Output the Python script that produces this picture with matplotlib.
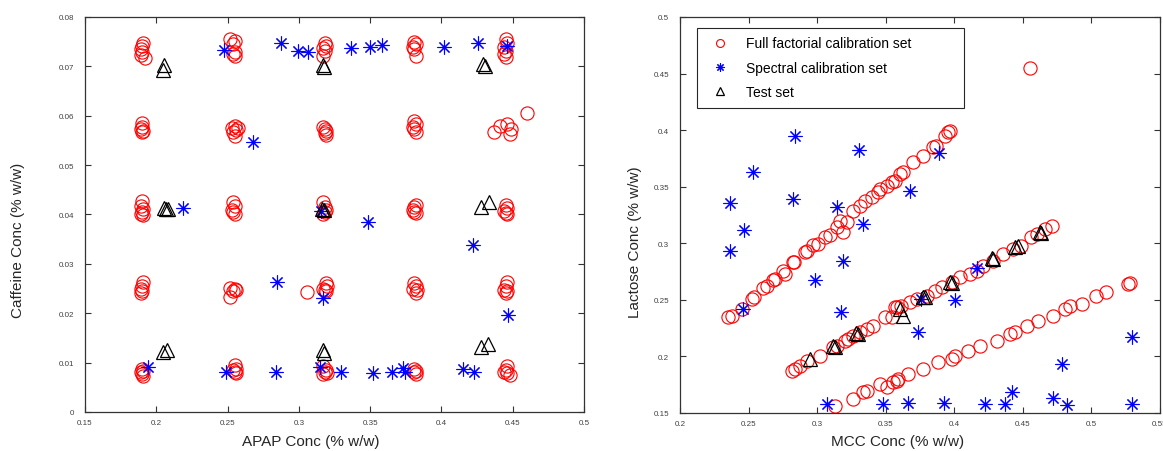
import matplotlib
matplotlib.use('Agg')
import matplotlib.pyplot as plt
from matplotlib.ticker import FuncFormatter

plt.rcParams['font.family'] = ['Liberation Sans', 'DejaVu Sans']

# ---- left panel: APAP vs caffeine ----
apap_ff = [0.191, 0.190, 0.189, 0.190, 0.189, 0.192,
           0.190, 0.190, 0.189, 0.191, 0.190,
           0.190, 0.189, 0.191, 0.190, 0.189, 0.191,
           0.191, 0.190, 0.189, 0.190, 0.189,
           0.190, 0.191, 0.189, 0.190, 0.191,
           0.252, 0.255, 0.254, 0.255, 0.254, 0.255,
           0.253, 0.255, 0.256, 0.254, 0.255, 0.257,
           0.254, 0.255, 0.253, 0.254, 0.255,
           0.252, 0.255, 0.256, 0.254, 0.252,
           0.255, 0.256, 0.254, 0.255, 0.256,
           0.318, 0.319, 0.317, 0.318, 0.317,
           0.317, 0.318, 0.319, 0.318, 0.319,
           0.317, 0.318, 0.319, 0.318, 0.317,
           0.319, 0.320, 0.317, 0.318, 0.319, 0.3056,
           0.317, 0.319, 0.318, 0.320, 0.317,
           0.381, 0.382, 0.380, 0.381, 0.382,
           0.381, 0.382, 0.380, 0.381, 0.382,
           0.382, 0.381, 0.380, 0.381, 0.382,
           0.381, 0.382, 0.380, 0.383, 0.382,
           0.381, 0.382, 0.381, 0.382,
           0.445, 0.446, 0.444, 0.445, 0.444, 0.445,
           0.437, 0.441, 0.446, 0.448, 0.449, 0.460,
           0.445, 0.446, 0.444, 0.445, 0.446,
           0.446, 0.445, 0.444, 0.446, 0.445,
           0.446, 0.445, 0.444, 0.446, 0.448]
caf_ff = [0.0747, 0.0741, 0.0735, 0.0729, 0.0724, 0.0716,
          0.0585, 0.0578, 0.0574, 0.0570, 0.0568,
          0.0428, 0.0418, 0.0412, 0.0405, 0.0400, 0.0398,
          0.0263, 0.0256, 0.0250, 0.0245, 0.0240,
          0.0088, 0.0083, 0.0080, 0.0076, 0.0072,
          0.0755, 0.0752, 0.0745, 0.0730, 0.0725, 0.0722,
          0.0575, 0.0580, 0.0572, 0.0568, 0.0558, 0.0575,
          0.0425, 0.0418, 0.0410, 0.0405, 0.0400,
          0.0252, 0.0250, 0.0248, 0.0245, 0.0232,
          0.0095, 0.0088, 0.0085, 0.0080, 0.0078,
          0.0748, 0.0742, 0.0737, 0.0731, 0.0722,
          0.0578, 0.0573, 0.0570, 0.0566, 0.0560,
          0.0425, 0.0415, 0.0410, 0.0406, 0.0402,
          0.0262, 0.0255, 0.0250, 0.0247, 0.0245, 0.0243,
          0.0093, 0.0085, 0.0080, 0.0078, 0.0076,
          0.0750, 0.0745, 0.0740, 0.0735, 0.0722,
          0.0590, 0.0583, 0.0578, 0.0573, 0.0568,
          0.0420, 0.0415, 0.0410, 0.0406, 0.0403,
          0.0262, 0.0255, 0.0250, 0.0248, 0.0242,
          0.0088, 0.0083, 0.0080, 0.0077,
          0.0755, 0.0748, 0.0740, 0.0732, 0.0725, 0.0718,
          0.0567, 0.0579, 0.0583, 0.0563, 0.0573, 0.0605,
          0.0420, 0.0413, 0.0408, 0.0403, 0.0400,
          0.0263, 0.0255, 0.0248, 0.0245, 0.0240,
          0.0093, 0.0085, 0.0080, 0.0078, 0.0075]

apap_spec = [0.2873, 0.2472, 0.2993, 0.3063, 0.3366, 0.3500, 0.3584, 0.4021, 0.4254, 0.4458,
             0.2676, 0.2190, 0.3155, 0.3486, 0.4218, 0.2845, 0.3169, 0.4465,
             0.1944, 0.2486, 0.2838, 0.3148, 0.3296, 0.3521, 0.3655, 0.3732, 0.3746,
             0.4148, 0.4225]
caf_spec = [0.0747, 0.0733, 0.0731, 0.0729, 0.0737, 0.0739, 0.0743, 0.0739, 0.0747, 0.0741,
            0.0547, 0.0413, 0.0407, 0.0385, 0.0338, 0.0264, 0.0231, 0.0196,
            0.0091, 0.0081, 0.0081, 0.0091, 0.0081, 0.0079, 0.0081, 0.0089, 0.0081,
            0.0087, 0.0081]

apap_test = [0.2055, 0.2045, 0.3169, 0.3175, 0.4290, 0.4305,
             0.2055, 0.2070, 0.2085, 0.3165, 0.3175, 0.4280, 0.4330,
             0.2050, 0.2076, 0.3170, 0.3178, 0.4280, 0.4324]
caf_test = [0.0702, 0.0692, 0.0703, 0.0699, 0.0704, 0.0700,
            0.0413, 0.0412, 0.0411, 0.0412, 0.0410, 0.0415, 0.0425,
            0.0121, 0.0125, 0.0125, 0.0120, 0.0131, 0.0137]

# ---- right panel: MCC vs lactose ----
mcc_ff = [0.2352, 0.2377, 0.2450, 0.2522, 0.2539, 0.2607, 0.2632, 0.2675, 0.2692, 0.2753,
          0.2765, 0.2821, 0.2831, 0.2911, 0.2928, 0.2972, 0.3008, 0.3057, 0.3093, 0.3142,
          0.3190, 0.3215, 0.3166, 0.3263, 0.3312, 0.3348, 0.3397, 0.3445, 0.3458, 0.3507,
          0.3543, 0.3567, 0.3603, 0.3628, 0.3701, 0.3773, 0.3846, 0.3870, 0.3932, 0.3956,
          0.3968,
          0.2814, 0.2838, 0.2875, 0.2924, 0.3020, 0.3118, 0.3142, 0.3203, 0.3227, 0.3263,
          0.3312, 0.3361, 0.3409, 0.3494, 0.3543, 0.3579, 0.3567, 0.3615, 0.3676, 0.3725,
          0.3798, 0.3859, 0.3907, 0.3980, 0.4041, 0.4114, 0.4163, 0.4211, 0.4284, 0.4357,
          0.4430, 0.4490, 0.4563, 0.4600, 0.4660, 0.4709,
          0.3130, 0.3263, 0.3336, 0.3360, 0.3458, 0.3507, 0.3555, 0.3591, 0.3579, 0.3664,
          0.3773, 0.3883, 0.3980, 0.4004, 0.4101, 0.4187, 0.4308, 0.4405, 0.4441, 0.4527,
          0.4612, 0.4721, 0.4806, 0.4843, 0.4928, 0.5037, 0.5110, 0.5267, 0.5280,
          0.4550]
lac_ff = [0.2351, 0.2360, 0.2419, 0.2507, 0.2525, 0.2602, 0.2625, 0.2678, 0.2684, 0.2757,
          0.2728, 0.2831, 0.2837, 0.2920, 0.2935, 0.2984, 0.2993, 0.3052, 0.3072, 0.3140,
          0.3096, 0.3190, 0.3199, 0.3287, 0.3331, 0.3376, 0.3405, 0.3450, 0.3479, 0.3508,
          0.3538, 0.3552, 0.3611, 0.3626, 0.3715, 0.3773, 0.3847, 0.3862, 0.3950, 0.3980,
          0.3994,
          0.1874, 0.1889, 0.1918, 0.1962, 0.2006, 0.2080, 0.2094, 0.2139, 0.2153, 0.2183,
          0.2212, 0.2242, 0.2271, 0.2345, 0.2345, 0.2433, 0.2433, 0.2448, 0.2478, 0.2507,
          0.2536, 0.2580, 0.2610, 0.2654, 0.2699, 0.2728, 0.2757, 0.2801, 0.2845, 0.2905,
          0.2949, 0.2978, 0.3052, 0.3081, 0.3125, 0.3149,
          0.1565, 0.1624, 0.1683, 0.1698, 0.1756, 0.1727, 0.1771, 0.1800, 0.1786, 0.1844,
          0.1889, 0.1948, 0.1977, 0.2006, 0.2050, 0.2095, 0.2139, 0.2198, 0.2213, 0.2271,
          0.2315, 0.2360, 0.2419, 0.2448, 0.2463, 0.2531, 0.2566, 0.2640, 0.2650,
          0.4550]

mcc_spec = [0.2364, 0.2534, 0.2838, 0.2821, 0.3142, 0.3307, 0.3336, 0.2466, 0.2364, 0.2461,
            0.2984, 0.3186, 0.3171, 0.3069, 0.3477, 0.3890, 0.3676, 0.3664, 0.3924, 0.4223,
            0.4369, 0.4422, 0.4721, 0.4823, 0.5297, 0.5297, 0.4782, 0.3737, 0.4004, 0.4163,
            0.3761]
lac_spec = [0.3355, 0.3632, 0.3950, 0.3391, 0.3317, 0.3827, 0.3170, 0.3115, 0.2928, 0.2419,
            0.2675, 0.2840, 0.2395, 0.1580, 0.1580, 0.3797, 0.3464, 0.1588, 0.1588, 0.1580,
            0.1580, 0.1683, 0.1630, 0.1571, 0.1580, 0.2168, 0.1933, 0.2218, 0.2496, 0.2778,
            0.2508]

mcc_test = [0.2948, 0.3118, 0.3130, 0.3287, 0.3300, 0.3603, 0.3628, 0.3773, 0.3785,
            0.3968, 0.3980, 0.4272, 0.4284, 0.4442, 0.4466, 0.4624, 0.4636]
lac_test = [0.1977, 0.2095, 0.2085, 0.2204, 0.2195, 0.2419, 0.2360, 0.2522, 0.2528,
            0.2654, 0.2645, 0.2866, 0.2858, 0.2963, 0.2972, 0.3096, 0.3087]

left_xticks = [0.15, 0.2, 0.25, 0.3, 0.35, 0.4, 0.45, 0.5]
left_yticks = [0, 0.01, 0.02, 0.03, 0.04, 0.05, 0.06, 0.07, 0.08]
right_xticks = [0.2, 0.25, 0.3, 0.35, 0.4, 0.45, 0.5, 0.55]
right_yticks = [0.15, 0.2, 0.25, 0.3, 0.35, 0.4, 0.45, 0.5]

circ = dict(ls='none', marker='o', ms=9.5, mfc='none', mec='red', mew=0.8)
star = dict(ls='none', marker=(8, 2, 0), ms=10, color='blue', mew=0.8)
tri = dict(ls='none', marker='^', ms=10, mfc='none', mec='black', mew=0.9)

fig = plt.figure(figsize=(11.63, 4.52), dpi=100)
ax1 = fig.add_axes([0.0731, 0.0863, 0.4291, 0.8739])
ax2 = fig.add_axes([0.5847, 0.0841, 0.4127, 0.8761])


def style(ax, xt, yt):
    ax.set_xticks(xt)
    ax.set_yticks(yt)
    ax.set_xlim(xt[0], xt[-1])
    ax.set_ylim(yt[0], yt[-1])
    fmt = FuncFormatter(lambda v, p: '%g' % round(v, 4))
    ax.xaxis.set_major_formatter(fmt)
    ax.yaxis.set_major_formatter(fmt)
    ax.tick_params(direction='in', top=True, right=True, length=4, width=0.8,
                   labelsize=5.8, labelcolor='#404040', color='#333333')
    ax.tick_params(axis='y', pad=8)
    ax.tick_params(axis='x', pad=5)
    for s in ax.spines.values():
        s.set_color('#333333')
        s.set_linewidth(0.9)


ax1.plot(apap_ff, caf_ff, **circ)
ax1.plot(apap_spec, caf_spec, **star)
ax1.plot(apap_test, caf_test, **tri)
style(ax1, left_xticks, left_yticks)
ax1.set_xlabel('APAP Conc (% w/w)', fontsize=11, color='#262626', va='center')
ax1.set_ylabel('Caffeine Conc (% w/w)', fontsize=11, color='#262626', va='center')
ax1.xaxis.set_label_coords(0.453, -0.073)
ax1.yaxis.set_label_coords(-0.134, 0.438)

h1, = ax2.plot(mcc_ff, lac_ff, **circ)
h2, = ax2.plot(mcc_spec, lac_spec, **star)
h3, = ax2.plot(mcc_test, lac_test, **tri)
style(ax2, right_xticks, right_yticks)
ax2.set_xlabel('MCC Conc (% w/w)', fontsize=11, color='#262626', va='center')
ax2.set_ylabel('Lactose Conc (% w/w)', fontsize=11, color='#262626', va='center')
ax2.xaxis.set_label_coords(0.454, -0.071)
ax2.yaxis.set_label_coords(-0.094, 0.434)

leg = ax2.legend([h1, h2, h3],
                 ['Full factorial calibration set', 'Spectral calibration set', 'Test set'],
                 loc='upper left', bbox_to_anchor=(0.035, 0.775, 0.556, 0.197),
                 mode='expand', fontsize=10, markerscale=0.6, fancybox=False,
                 framealpha=1, edgecolor='#262626', borderpad=0.6, labelspacing=0.75,
                 handlelength=2.2, handletextpad=0.72, borderaxespad=0)
leg.get_frame().set_linewidth(0.8)

fig.savefig('out.png', dpi=100)
